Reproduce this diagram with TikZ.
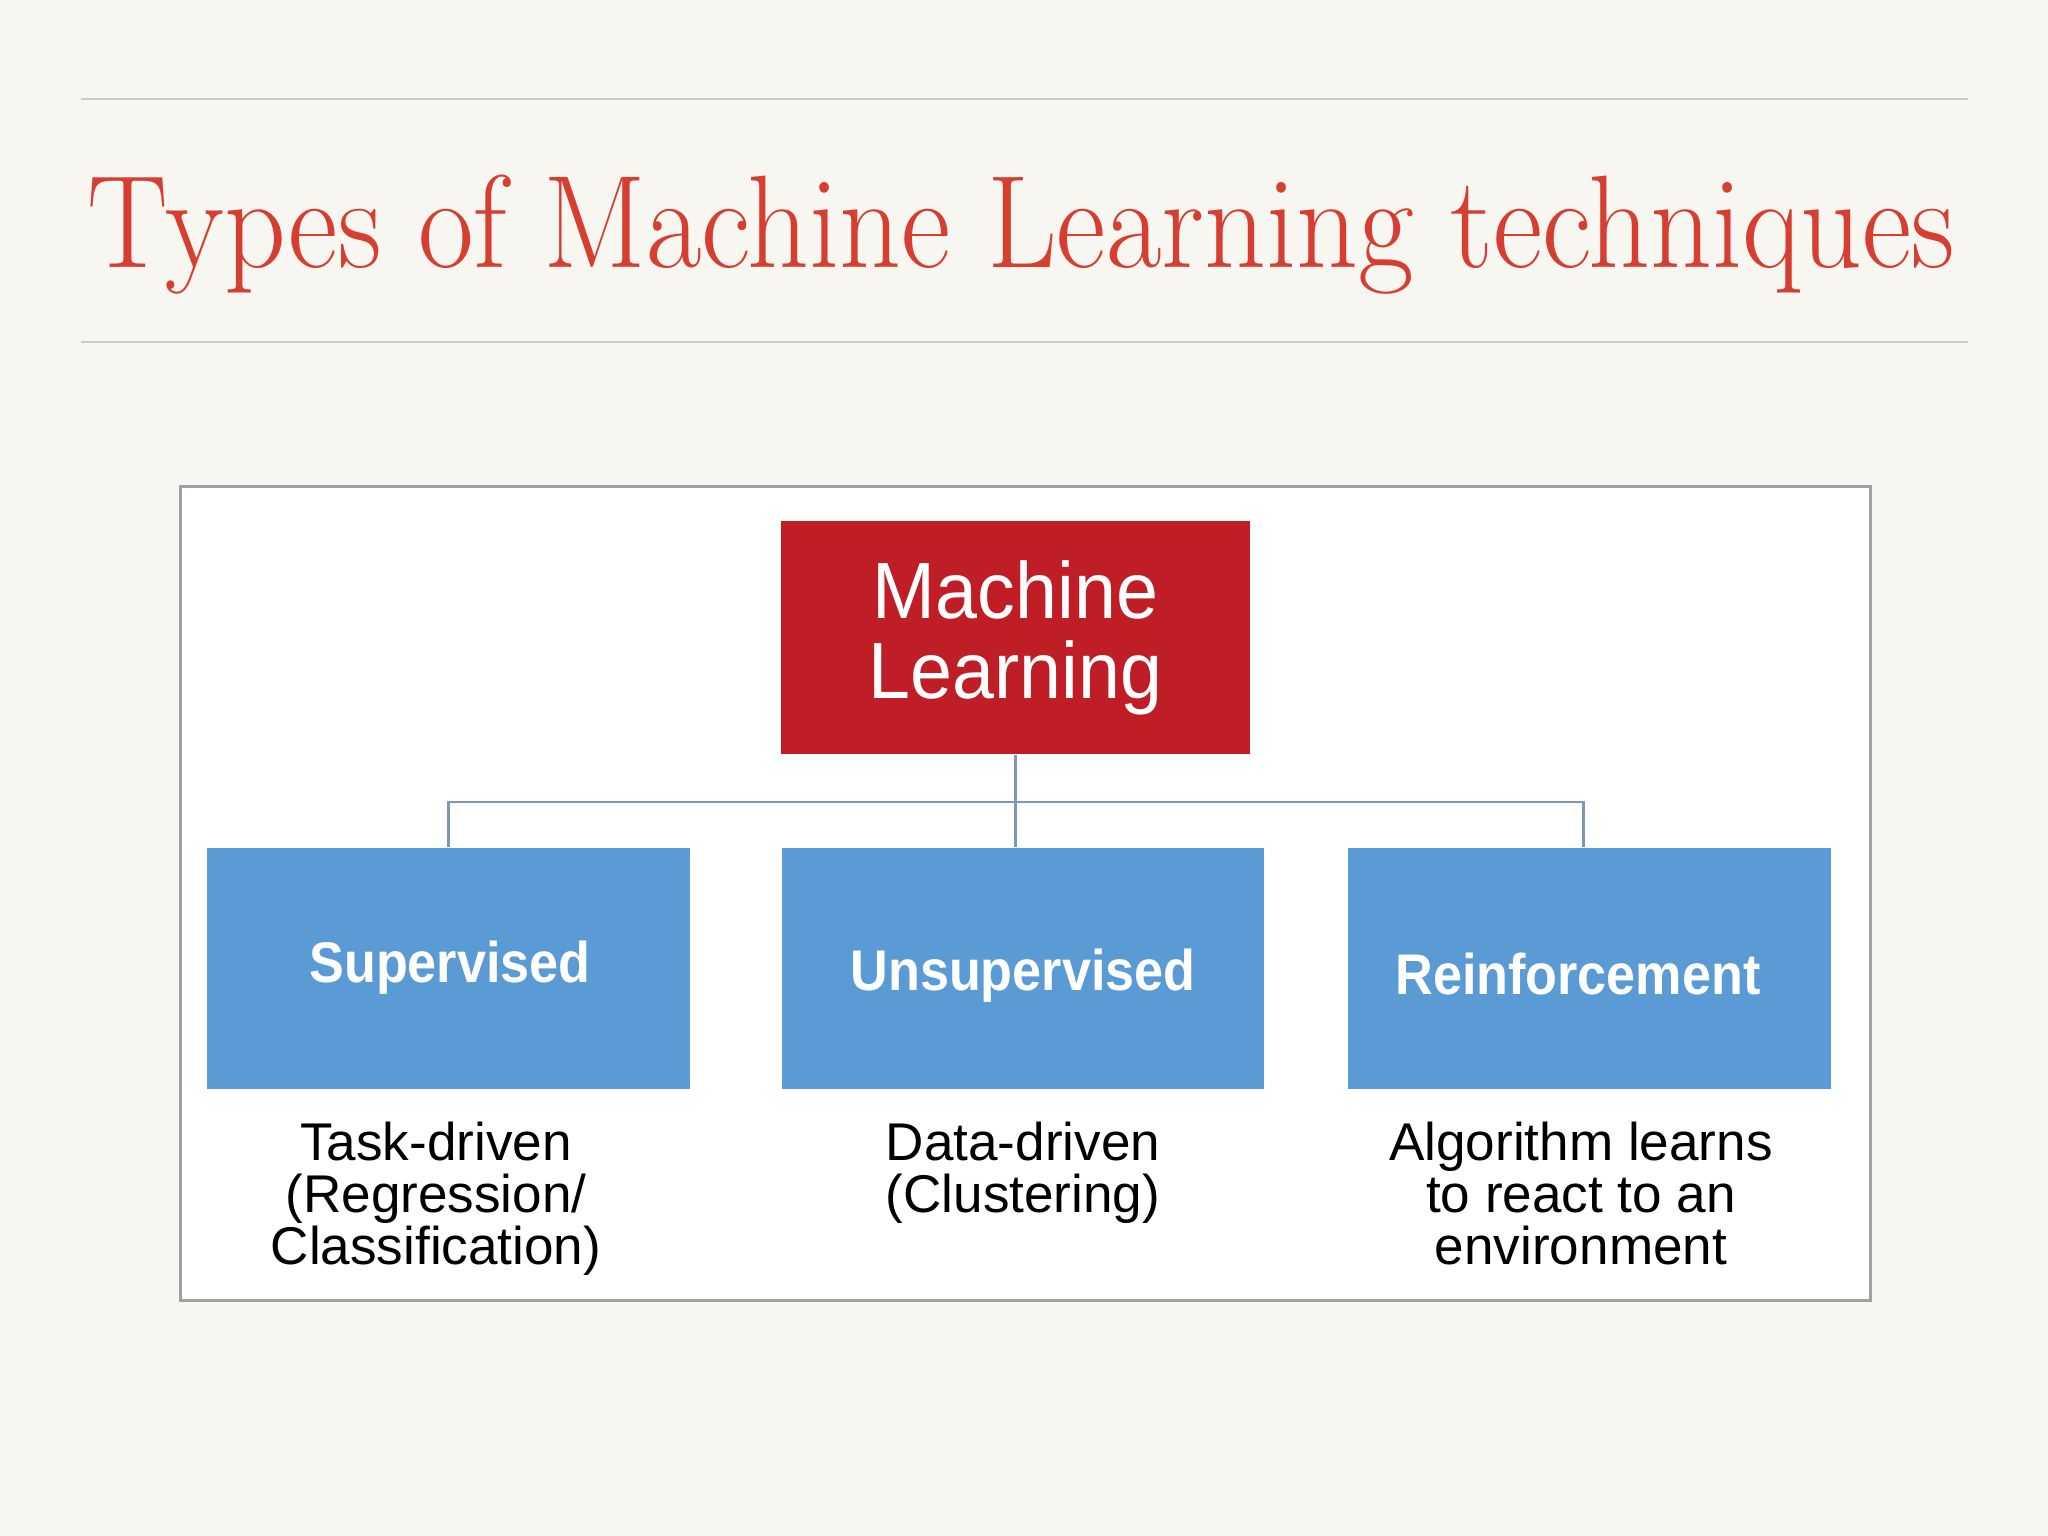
\documentclass[tikz,border=0pt]{standalone}
\usepackage{fontspec}
\usepackage{graphicx}
\newfontfamily\arialf{Liberation Sans}
\definecolor{bgcol}{RGB}{248,246,240}
\definecolor{titlered}{RGB}{213,62,48}
\definecolor{rulecol}{RGB}{205,202,195}
\definecolor{framecol}{RGB}{160,160,160}
\definecolor{mlred}{RGB}{192,30,38}
\definecolor{boxblue}{RGB}{91,155,213}
\definecolor{conncol}{RGB}{125,150,185}
\newcommand\mlstack[2]{\vtop{\baselineskip=#1\lineskiplimit=-\maxdimen\lineskip=0pt\halign{\hfil##\hfil\cr#2\crcr}}}
\tikzset{
  rulestyle/.style={draw=rulecol, line width=0.57pt},
  panel/.style={draw=framecol, fill=white, line width=0.85pt, minimum width=16.89cm, minimum height=8.13cm, inner sep=0pt},
  mlbox/.style={fill=mlred, text=white, minimum width=4.69cm, minimum height=2.33cm, inner sep=0pt,
    font=\arialf\fontsize{22.7}{22.8}\selectfont},
  typebox/.style={fill=boxblue, minimum width=4.82cm, minimum height=2.41cm, inner sep=0pt},
  sublabel/.style={anchor=base, inner sep=0pt, text=white, font=\arialf\bfseries\fontsize{16.3}{18}\selectfont},
  desc/.style={anchor=base, inner sep=0pt, text=black, font=\arialf\fontsize{15.1}{14.8}\selectfont},
  conn/.style={draw=conncol, line width=0.6pt}
}
\begin{document}
\begin{tikzpicture}[x=0.01cm, y=-0.01cm]
\fill[bgcol] (0,0) rectangle (2048,1536);
\useasboundingbox (0,0) rectangle (2048,1536);
% title rules
\draw[rulestyle] (81,99) -- (1968,99);
\draw[rulestyle] (81,342) -- (1968,342);
% title
\node[anchor=base west, inner sep=0pt, text=titlered, font=\fontsize{37.5}{40}\selectfont] (title) at (87,267)
  {\resizebox{531pt}{\height}{Types of Machine Learning techniques}};
% panel
\node[panel] (frame) at (1025.5,893.5) {};
% root
\node[mlbox] (ml) at (1015.5,637.5) {\scalebox{0.945}[1]{\mlstack{22.8pt}{Machine\cr Learning}}};
% three types
\node[typebox] (sup) at (448.5,968.5) {};
\node[typebox] (uns) at (1023,968.5) {};
\node[typebox] (rei) at (1589.5,968.5) {};
\node[sublabel] (supl) at (450,982) {\scalebox{0.91}[1]{Supervised}};
\node[sublabel] (unsl) at (1023,990) {\scalebox{0.91}[1]{Unsupervised}};
\node[sublabel] (reil) at (1578,994) {\scalebox{0.91}[1]{Reinforcement}};
% descriptions
\node[desc] (supd) at (436,1160) {\mlstack{14.8pt}{Task-driven\cr (Regression/\cr Classification)}};
\node[desc] (unsd) at (1023,1160) {\mlstack{14.8pt}{Data-driven\cr (Clustering)}};
\node[desc] (reid) at (1581,1160) {\mlstack{14.8pt}{Algorithm learns\cr to react to an\cr environment}};
% connectors
\coordinate (bar) at (0,802);
\draw[conn] (ml.south) -- (ml.south |- uns.north);
\draw[conn] (sup.north) -- (sup.north |- bar) -- ([xshift=-0.06cm]rei.north |- bar) -- ([xshift=-0.06cm]rei.north);
\end{tikzpicture}
\end{document}
